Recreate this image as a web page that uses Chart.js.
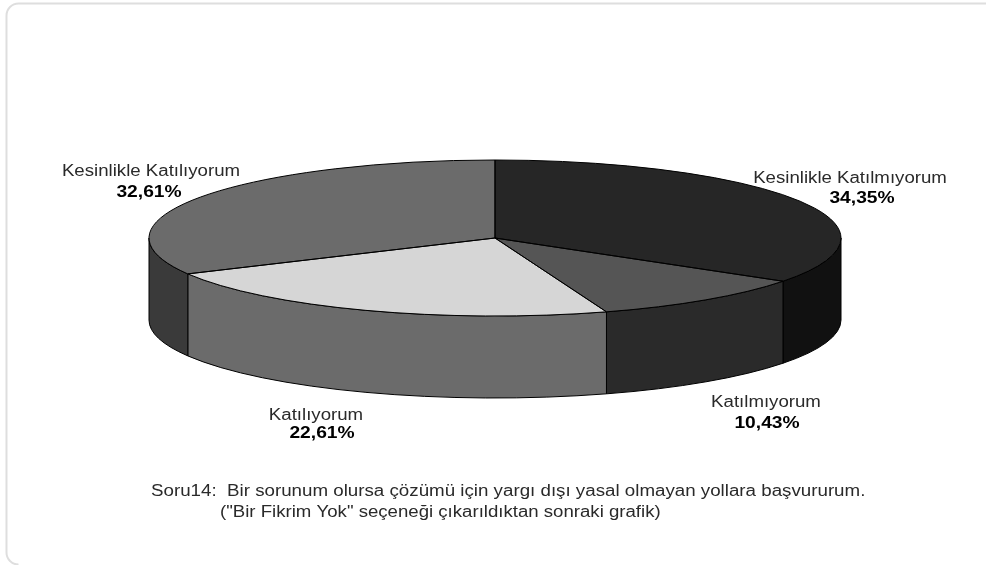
<!DOCTYPE html>
<html>
<head>
<meta charset="utf-8">
<style>
  body { margin: 0; background: #fff; }
  canvas { display: block; filter: blur(0.4px); }
</style>
<script src="https://cdn.jsdelivr.net/npm/chart.js@4/dist/chart.umd.js"></script>
</head>
<body>
<canvas id="myChart" width="989" height="565"></canvas>
<script>
const categories = ['Kesinlikle Katılmıyorum', 'Katılmıyorum', 'Katılıyorum', 'Kesinlikle Katılıyorum'];
const values = [34.35, 10.43, 22.61, 32.61];
const valueLabels = ['34,35%', '10,43%', '22,61%', '32,61%'];
const captionLines = [
  'Soru14:  Bir sorunum olursa çözümü için yargı dışı yasal olmayan yollara başvururum.',
  '("Bir Fikrim Yok" seçeneği çıkarıldıktan sonraki grafik)'
];

const topColors = ['#262626', '#555555', '#d6d6d6', '#6b6b6b'];
const wallColors = ['#111111', '#2a2a2a', '#6b6b6b', '#3a3a3a'];
const namePositions = [[850, 179], [766, 403], [316, 416], [151, 172]];
const valuePositions = [[862, 198], [767, 423], [322, 433], [149, 192]];
const captionPositions = [[151, 492], [220, 513]];
const captionStretch = [1.171, 1.163];

// the flat pie gets squashed to this ellipse, the rim hangs below it
const cx = 495, cy = 238, rx = 346, ry = 78, depth = 82;

// the reference text is stretched sideways, so draw it the same way
function wideText(ctx, text, x, y, stretch) {
  ctx.save();
  ctx.translate(x, y);
  ctx.scale(stretch, 1);
  ctx.fillText(text, 0, 0);
  ctx.restore();
}

const squashPlugin = {
  id: 'squash',
  beforeDatasetsDraw(chart) {
    const arcs = chart.getDatasetMeta(0).data;
    const ctx = chart.ctx;
    const PI2 = Math.PI * 2;

    // rim, only the front half of the ellipse can be seen
    arcs.forEach((arc, i) => {
      const { startAngle, endAngle } = arc.getProps(['startAngle', 'endAngle'], true);
      [0, PI2].forEach(shift => {
        const a0 = Math.max(startAngle + shift, 0);
        const a1 = Math.min(endAngle + shift, Math.PI);
        if (a1 <= a0) return;
        ctx.beginPath();
        ctx.ellipse(cx, cy, rx, ry, 0, a0, a1);
        ctx.ellipse(cx, cy + depth, rx, ry, 0, a1, a0, true);
        ctx.closePath();
        ctx.fillStyle = wallColors[i];
        ctx.fill();
        ctx.lineWidth = 1;
        ctx.strokeStyle = '#000';
        ctx.stroke();
      });
    });

    const first = arcs[0];
    const R = first.outerRadius;
    ctx.save();
    ctx.translate(cx, cy);
    ctx.scale(rx / R, ry / R);
    ctx.translate(-first.x, -first.y);
  },
  afterDatasetsDraw(chart) {
    const ctx = chart.ctx;
    ctx.restore();

    // slice outlines, done here so the squash does not distort the line width
    chart.getDatasetMeta(0).data.forEach(arc => {
      const { startAngle, endAngle } = arc.getProps(['startAngle', 'endAngle'], true);
      ctx.beginPath();
      ctx.moveTo(cx, cy);
      ctx.ellipse(cx, cy, rx, ry, 0, startAngle, endAngle);
      ctx.closePath();
      ctx.lineWidth = 1;
      ctx.strokeStyle = '#000';
      ctx.stroke();
    });

    // labels
    ctx.textAlign = 'center';
    ctx.textBaseline = 'middle';
    categories.forEach((name, i) => {
      ctx.fillStyle = '#2a2a2a';
      ctx.font = '16px "Liberation Sans"';
      wideText(ctx, name, namePositions[i][0], namePositions[i][1], 1.165);
      ctx.fillStyle = '#000';
      ctx.font = 'bold 17px "Liberation Sans"';
      wideText(ctx, valueLabels[i], valuePositions[i][0], valuePositions[i][1], 1.13);
    });

    ctx.textAlign = 'left';
    ctx.fillStyle = '#2a2a2a';
    ctx.font = '16px "Liberation Sans"';
    captionLines.forEach((text, i) => {
      wideText(ctx, text, captionPositions[i][0], captionPositions[i][1], captionStretch[i]);
    });

    // card frame, only the left and top edges show
    ctx.beginPath();
    ctx.moveTo(18, 564.5);
    ctx.arcTo(6.5, 564.5, 6.5, 552, 12);
    ctx.arcTo(6.5, 3.5, 20, 3.5, 12);
    ctx.lineTo(986, 3.5);
    ctx.lineWidth = 2;
    ctx.strokeStyle = '#dedede';
    ctx.stroke();
  }
};

new Chart(document.getElementById('myChart').getContext('2d'), {
  type: 'pie',
  data: {
    labels: categories,
    datasets: [{
      data: values,
      backgroundColor: topColors,
      borderWidth: 0,
      clip: false
    }]
  },
  options: {
    responsive: false,
    animation: false,
    plugins: { legend: { display: false }, title: { display: false }, tooltip: { enabled: false } }
  },
  plugins: [squashPlugin]
});
</script>
</body>
</html>
